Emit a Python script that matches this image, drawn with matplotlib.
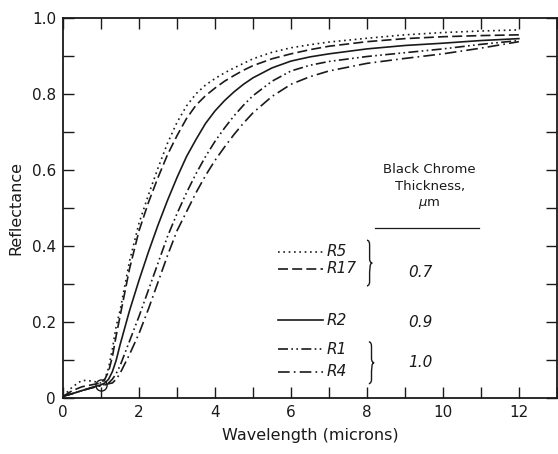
import matplotlib
matplotlib.use("Agg")
import matplotlib.pyplot as plt
from matplotlib.path import Path
from matplotlib.patches import PathPatch
from matplotlib.ticker import MultipleLocator

# wavelength grid (microns) and reflectance
wl = [0, 0.25, 0.5, 0.75, 1.0, 1.1, 1.2, 1.3, 1.4, 1.5, 1.75, 2.0, 2.25, 2.5,
      2.75, 3.0, 3.25, 3.5, 3.75, 4.0, 4.25, 4.5, 4.75, 5.0, 5.5, 6.0, 6.5,
      7.0, 8.0, 9.0, 10.0, 11.0, 12.0]
r5 = [0.005, 0.03, 0.047, 0.045, 0.04, 0.05, 0.08, 0.13, 0.19, 0.23, 0.36, 0.46,
      0.535, 0.605, 0.67, 0.725, 0.768, 0.80, 0.823, 0.84, 0.855, 0.868, 0.88,
      0.892, 0.909, 0.921, 0.929, 0.936, 0.946, 0.955, 0.961, 0.965, 0.968]
r17 = [0.005, 0.02, 0.03, 0.035, 0.04, 0.05, 0.07, 0.11, 0.165, 0.215, 0.34, 0.44,
       0.515, 0.58, 0.64, 0.69, 0.735, 0.77, 0.795, 0.815, 0.833, 0.848, 0.862,
       0.874, 0.892, 0.905, 0.916, 0.925, 0.937, 0.945, 0.95, 0.953, 0.955]
r2 = [0.005, 0.012, 0.02, 0.028, 0.035, 0.04, 0.05, 0.07, 0.1, 0.14, 0.23, 0.31,
      0.385, 0.455, 0.52, 0.58, 0.635, 0.68, 0.722, 0.755, 0.782, 0.805, 0.825,
      0.842, 0.868, 0.886, 0.897, 0.905, 0.918, 0.927, 0.933, 0.94, 0.945]
r1 = [0.005, 0.012, 0.02, 0.027, 0.033, 0.036, 0.04, 0.05, 0.065, 0.085, 0.15, 0.215,
      0.285, 0.355, 0.425, 0.485, 0.54, 0.59, 0.635, 0.675, 0.71, 0.742, 0.77,
      0.795, 0.833, 0.86, 0.875, 0.885, 0.898, 0.908, 0.918, 0.93, 0.94]
r4 = [0.005, 0.012, 0.02, 0.027, 0.033, 0.035, 0.038, 0.04, 0.05, 0.065, 0.115, 0.17,
      0.235, 0.305, 0.375, 0.44, 0.49, 0.54, 0.585, 0.625, 0.66, 0.693, 0.723,
      0.75, 0.793, 0.825, 0.845, 0.86, 0.88, 0.893, 0.905, 0.92, 0.937]

names = ["R5", "R17", "R2", "R1", "R4"]
series = [r5, r17, r2, r1, r4]
styles = [(0, (1, 2.2)), (0, (6, 2.5)), "-", (0, (6, 2, 1, 2, 1, 2)), (0, (7, 2.5, 1, 2.5))]
label_y = [0.385, 0.34, 0.205, 0.128, 0.07]
groups = ["0.7", "0.9", "1.0"]
group_y = [0.33, 0.2, 0.095]

ink = "#1a1a1a"
plt.rcParams['font.family'] = ['DejaVu Sans']

fig = plt.figure(figsize=(5.58, 4.54), dpi=100)
ax = fig.add_axes([0.113, 0.123, 0.885, 0.838])

for ys, ls in zip(series, styles):
    ax.plot(wl, ys, color=ink, lw=1.2, linestyle=ls)
# small open circle near 1 micron
ax.plot([1.0], [0.035], marker="o", ms=8, mfc="none", mec=ink, mew=1.0)

# legend samples drawn in the plot
for name, ly, ls in zip(names, label_y, styles):
    ax.plot([5.65, 6.85], [ly, ly], color=ink, lw=1.2, linestyle=ls)
    ax.text(6.95, ly, name, fontsize=11, style="italic", va="center", ha="left", color=ink)

def brace(x, ytop, ybot, w=0.14):
    ym = (ytop + ybot) / 2
    c = 0.012
    verts = [(x, ytop), (x + w / 2, ytop), (x + w / 2, ytop - c),
             (x + w / 2, ym + c),
             (x + w / 2, ym), (x + w, ym), (x + w, ym),
             (x + w, ym), (x + w / 2, ym), (x + w / 2, ym - c),
             (x + w / 2, ybot + c),
             (x + w / 2, ybot), (x, ybot), (x, ybot)]
    codes = [Path.MOVETO, Path.CURVE3, Path.CURVE3, Path.LINETO,
             Path.CURVE4, Path.CURVE4, Path.CURVE4,
             Path.MOVETO, Path.CURVE4, Path.CURVE4, Path.LINETO,
             Path.CURVE4, Path.CURVE4, Path.CURVE4]
    ax.add_patch(PathPatch(Path(verts, codes), fill=False, lw=1.0, ec=ink))

brace(8.0, 0.415, 0.295)
brace(8.05, 0.148, 0.038)

for g, gy in zip(groups, group_y):
    ax.text(9.4, gy, g, fontsize=11, style="italic", ha="center", va="center", color=ink)

ax.text(9.65, 0.555, "Black Chrome\nThickness,\n$\\mu$m", fontsize=9.5, ha="center",
        va="center", linespacing=1.35, color=ink)
ax.plot([8.2, 10.95], [0.446, 0.446], color=ink, lw=0.9)

ax.set_xlim(0, 13)
ax.set_ylim(0, 1.0)
ax.xaxis.set_major_locator(MultipleLocator(2))
ax.xaxis.set_minor_locator(MultipleLocator(1))
ax.yaxis.set_major_locator(MultipleLocator(0.2))
ax.yaxis.set_minor_locator(MultipleLocator(0.1))
ax.xaxis.set_major_formatter(plt.FuncFormatter(lambda v, p: "%d" % v if v <= 12 else ""))
ax.yaxis.set_major_formatter(plt.FuncFormatter(lambda v, p: "0" if v == 0 else "%.1f" % v))
ax.tick_params(which="both", direction="in", length=8, width=1.0, top=True, right=True,
               colors=ink, labelsize=11, pad=5)
for s in ax.spines.values():
    s.set_linewidth(1.3)
    s.set_color(ink)

ax.set_xlabel("Wavelength (microns)", fontsize=11.5, color=ink, labelpad=6)
ax.set_ylabel("Reflectance", fontsize=11.5, color=ink, labelpad=6)

fig.savefig("out.png", dpi=100)
